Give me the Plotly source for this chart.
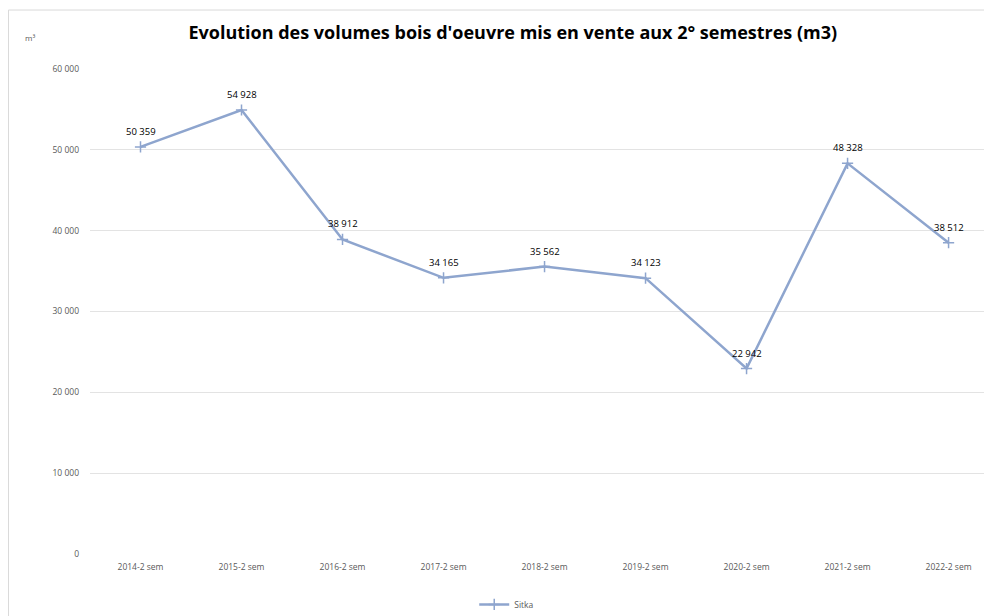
import plotly.graph_objects as go

categories = ["2014-2 sem", "2015-2 sem", "2016-2 sem", "2017-2 sem", "2018-2 sem",
              "2019-2 sem", "2020-2 sem", "2021-2 sem", "2022-2 sem"]
sitka = [50359, 54928, 38912, 34165, 35562, 34123, 22942, 48328, 38512]
tick_vals = [0, 10000, 20000, 30000, 40000, 50000, 60000]

LINE = "#8EA5CE"
FONT = "Open Sans"

fig = go.Figure()
fig.add_trace(go.Scatter(
    x=list(range(len(categories))), y=sitka, name="Sitka",
    mode="lines+markers",
    line=dict(color=LINE, width=2.5),
    marker=dict(symbol="cross-thin", size=8, line=dict(color=LINE, width=1.5), color=LINE),
))

label_annotations = [
    dict(x=i, y=v, xref="x", yref="y", text=f"{v:,}".replace(",", " "),
         showarrow=False, yanchor="bottom", yshift=7,
         font=dict(size=9.5, color="#000000", family=FONT))
    for i, v in enumerate(sitka)
]

fig.update_layout(
    width=984, height=608,
    margin=dict(l=82, r=0, t=61, b=62, autoexpand=False),
    paper_bgcolor="white", plot_bgcolor="white",
    separators=", ",
    font=dict(family=FONT, color="#595959"),
    title=dict(text="<b>Evolution des volumes bois d'oeuvre mis en vente aux 2° semestres (m3)</b>",
               x=0.513, xref="container", xanchor="center", y=0.959, yanchor="middle",
               font=dict(size=18, color="#000000", family=FONT)),
    xaxis=dict(range=[-0.5, 8.43], tickvals=list(range(len(categories))), ticktext=categories,
               showgrid=False, zeroline=False, showline=False, automargin=False,
               tickfont=dict(size=8.5, color="#595959"), ticks="", ticklabelstandoff=6),
    yaxis=dict(range=[0, 60000], tickvals=tick_vals, tickformat=",d", automargin=False,
               showgrid=True, gridcolor="#E3E3E3", gridwidth=1, zeroline=False,
               tickfont=dict(size=8.5, color="#595959"), ticks="", ticklabelstandoff=10),
    showlegend=True,
    legend=dict(orientation="h", x=0.462, xanchor="center", y=-0.104, yanchor="middle",
                font=dict(size=8.5, color="#595959"), itemwidth=30),
    shapes=[dict(type="rect", xref="paper", yref="paper",
                 x0=-0.0904, x1=1.05, y0=-0.13, y1=1.1216,
                 line=dict(color="#D9D9D9", width=1), fillcolor="rgba(0,0,0,0)", layer="below")],
    annotations=label_annotations + [
        dict(text="m³", xref="paper", yref="paper", x=-0.066, y=1.064,
             xanchor="center", yanchor="middle", showarrow=False,
             font=dict(size=8, color="#595959"))],
)

fig.write_html("out.html")
